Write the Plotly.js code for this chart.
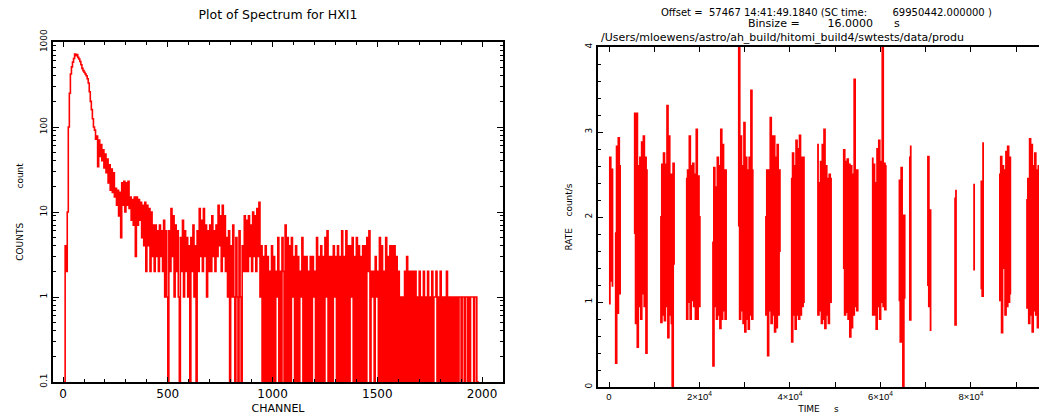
<!DOCTYPE html>
<html><head><meta charset="utf-8">
<script src="https://cdn.plot.ly/plotly-3.0.1.min.js"></script>
<style>html,body{margin:0;padding:0;background:#fff}#chart{width:1039px;height:417px}</style>
</head><body><div id="chart"></div>
<script>
// ---------------- Spectrum (HXI1): counts read every 5th channel ----------------
const specChannelStep = 5;
const specCountsA = [ // ch 0..495
  0,0,4,2,10,100,250,420,510,580,
  640,720,690,710,660,630,590,540,490,460,
  440,420,400,370,330,260,200,160,125,100,
  92,72,78,34,70,45,62,40,54,33,
  48,29,42,22,36,18,32,17,29,15,
  19,12,18,9,17,5,22,12,23,10,
  22,12,23,11,15,8,14,7,15,3,
  15,7,14,8,13,5,12,4,13,2,
  12,4,11,2,10,3,7,2,7,3,
  6,2,7,3,6,2,8,1,6,1];
const specCountsB = [ // ch 500..995
  0,6,2,11,3,9,1,7,2,6,
  1,0,5,2,8,1,6,2,5,1,
  4,0,5,2,7,1,4,0,6,2,
  11,3,8,2,11,3,7,1,6,2,
  7,2,9,3,6,2,7,3,12,4,
  9,2,12,3,9,2,5,1,6,0,
  4,1,7,1,0,5,1,0,6,1,
  0,4,2,9,2,8,2,9,3,7,
  2,10,3,9,2,11,3,13,1,4,
  0,3,0,4,0,3,0,2,0,4];
const specCountsC = [ // ch 1000..1495
  0,3,0,2,1,5,0,2,0,5,
  2,0,7,0,5,0,4,0,5,1,
  3,0,4,0,3,0,2,1,5,0,
  3,0,3,0,2,0,3,0,3,1,
  2,0,5,0,3,0,4,0,3,0,
  5,1,6,0,3,0,3,0,4,1,
  3,0,4,0,3,0,6,0,3,0,
  6,0,4,0,4,1,5,0,3,0,
  5,0,4,0,3,0,4,0,4,0,
  5,2,6,0,2,1,2,0,3,1];
const specCountsD = [ // ch 1500..1980
  2,0,5,0,4,0,2,0,5,0,
  3,0,4,0,4,0,4,0,3,0,
  2,0,1,0,1,0,2,0,3,0,
  2,0,2,0,2,0,2,0,1,0,
  2,0,1,0,2,0,1,0,2,0,
  1,0,2,0,1,1,2,0,1,0,
  2,0,1,0,1,0,2,0,1,0,
  1,0,1,0,1,0,1,0,1,1,
  0,1,1,0,1,1,0,1,0,1,
  1,1,0,1,1,0,0];
const specXTicks = [0, 500, 1000, 1500, 2000];
const specYTicks = [0.1, 1, 10, 100, 1000];
const specYTickText = ['0.1', '1', '10', '100', '1000'];

// ---------------- Light curve: rate (count/s), one value per 12 bins of 16 s ----------------
const lcSampleStep = 192; // s
const lcSegStart = [0, 1300, 5500, 11300, 17000, 22800, 28500, 34500, 40200, 46000,
                    51700, 58100, 64000, 66300, 70300, 76300, 80500, 82100, 86200, 92200];
const lcSeg01 = [0.98, 2.70, 1.25, 2.56, 1.19];
const lcSeg02 = [1.81, 0.28, 2.83, 0.87, 2.93, 1.10, 2.60];
const lcSeg03 = [1.81, 3.22, 0.75, 3.22, 0.47, 2.60, 0.95, 2.70, 0.80, 2.88, 1.10, 2.95, 0.95, 2.70, 0.40, 2.55];
const lcSeg04 = [2.00, 0.76, 2.62, 0.85, 2.75, 0.78, 2.62, 0.95, 3.31, 0.58, 2.95, 0.85, 2.50, 0.75, 0.00, 2.63, 1.45];
const lcSeg05 = [2.45, 0.80, 2.55, 1.00, 2.95, 0.80, 2.60, 1.02, 2.63, 0.95, 2.50, 0.80, 3.03, 0.80, 2.48, 0.95, 2.00];
const lcSeg06 = [1.70, 0.25, 2.58, 0.95, 2.35, 0.80, 2.70, 0.85, 2.60, 0.69, 3.03, 0.80, 2.85, 0.90, 2.55, 0.80, 2.55];
const lcSeg07 = [1.90, 4.50, 0.80, 2.95, 0.90, 2.60, 0.75, 3.11, 0.65, 2.70, 0.80, 2.55, 0.68, 2.70, 0.85, 3.49, 0.80, 2.55];
const lcSeg08 = [2.00, 0.85, 2.55, 0.37, 2.55, 0.90, 3.17, 0.75, 2.95, 0.85, 2.95, 0.65, 2.70, 0.70, 2.85, 0.85, 2.55, 1.60];
const lcSeg09 = [2.45, 0.53, 2.75, 0.85, 2.60, 0.68, 2.90, 0.85, 2.80, 0.80, 2.96, 0.85, 2.70, 0.95, 2.70, 1.00];
const lcSeg10 = [2.85, 0.85, 2.40, 0.90, 2.65, 0.75, 2.85, 0.80, 3.03, 0.69, 2.60, 0.85, 2.45, 0.75, 2.50, 1.00, 2.45];
const lcSeg11 = [1.40, 2.79, 0.85, 2.65, 0.88, 2.68, 0.80, 2.62, 0.59, 2.60, 0.70, 2.50, 0.85, 3.62, 0.95, 2.55, 0.90, 2.55];
const lcSeg12 = [2.69, 0.85, 2.62, 0.85, 2.40, 0.68, 2.80, 0.95, 2.90, 0.80, 2.65, 1.00, 4.50, 0.95, 2.63, 0.91, 2.60];
const lcSeg13 = [1.02, 2.43, 0.53, 2.58, 1.20, 0.00, 2.02, 1.05];
const lcSeg14 = [2.70, 0.79, 2.83];
const lcSeg15 = [1.20, 2.71, 0.95, 2.08, 0.67];
const lcSeg16 = [2.22, 0.73, 2.31];
const lcSeg17 = [2.38, 1.38];
const lcSeg18 = [1.16, 2.42, 1.07, 2.87];
const lcSeg19 = [2.50, 1.02, 2.71, 0.64, 2.60, 1.40, 2.55, 0.85, 2.77, 0.95, 2.83, 1.00, 2.70, 1.10];
const lcSeg20 = [2.20, 0.93, 2.45, 0.75, 2.92, 0.85, 2.85, 0.65, 2.60, 0.90, 2.75, 0.85, 2.55, 0.70, 2.60];
const lcTickVals = [0, 20000, 40000, 60000, 80000];
const lcTickText = ['0', '2×10<sup>4</sup>', '4×10<sup>4</sup>', '6×10<sup>4</sup>', '8×10<sup>4</sup>'];
const lcYTicks = [0, 1, 2, 3, 4];

// ---------------- build traces ----------------
const specCounts = [].concat(specCountsA, specCountsB, specCountsC, specCountsD);
const specFloor = 0.1; // zero counts are drawn down to the bottom of the log axis
// histogram outline: each 5-channel sample is held flat until the next one
const specX = [], specY = [];
specCounts.forEach((c, i) => {
  const v = Math.max(c, specFloor);
  specX.push(i * specChannelStep, (i + 1) * specChannelStep);
  specY.push(v, v);
});

const lcSegs = [lcSeg01, lcSeg02, lcSeg03, lcSeg04, lcSeg05, lcSeg06, lcSeg07, lcSeg08, lcSeg09, lcSeg10,
                lcSeg11, lcSeg12, lcSeg13, lcSeg14, lcSeg15, lcSeg16, lcSeg17, lcSeg18, lcSeg19, lcSeg20];
const lcX = [], lcY = [];
lcSegs.forEach((seg, k) => {
  seg.forEach((r, i) => {
    const t = lcSegStart[k] + i * lcSampleStep;
    lcX.push(t, t + lcSampleStep); lcY.push(r, r);
  });
  lcX.push(null); lcY.push(null);
});

const W = 1039, H = 417;
const px = x => x / W, py = y => 1 - y / H;
const DJ = 'DejaVu Sans, sans-serif';
const LB = 'Liberation Sans, Arial, sans-serif';
const nb = n => '\u00a0'.repeat(n);

const traces = [
  {x: specX, y: specY, type: 'scatter', mode: 'lines',
   line: {color: '#ff0000', width: 1.6, simplify: false},
   xaxis: 'x', yaxis: 'y', hoverinfo: 'skip'},
  {x: lcX, y: lcY, type: 'scatter', mode: 'lines',
   line: {color: '#ff0000', width: 1.8, simplify: false}, connectgaps: false,
   xaxis: 'x2', yaxis: 'y2', hoverinfo: 'skip'}
];

const minorLog = [];
[0.1, 1, 10, 100].forEach(d => { for (let m = 2; m <= 9; m++) minorLog.push(d * m); });

const axCommon = {showgrid: false, zeroline: false, showline: true, linecolor: '#000', linewidth: 2,
                  ticks: 'inside', tickcolor: '#000', tickwidth: 1, fixedrange: true, automargin: false};

const layout = {
  width: W, height: H, margin: {l: 0, r: 0, t: 0, b: 0}, showlegend: false,
  paper_bgcolor: '#fff', plot_bgcolor: '#fff',
  font: {family: DJ, size: 11, color: '#000'},
  title: {text: 'Plot of Spectrum for HXI1', x: px(278), xanchor: 'center', xref: 'paper',
          y: py(15), yanchor: 'middle', yref: 'container', font: {family: DJ, size: 12.5, color: '#000'}},
  xaxis: Object.assign({}, axCommon, {domain: [px(53), px(503)], range: [-48, 2100], anchor: 'y',
    tickmode: 'array', tickvals: specXTicks, ticklen: 5, mirror: 'ticks',
    tickfont: {family: DJ, size: 12}, minor: {dtick: 100, tick0: 0, ticks: 'inside', ticklen: 3, tickcolor: '#000'},
    title: {text: 'CHANNEL', font: {family: DJ, size: 11}, standoff: 4}}),
  yaxis: Object.assign({}, axCommon, {domain: [py(382), py(42)], type: 'log', range: [-1, 3], anchor: 'x',
    tickmode: 'array', tickvals: specYTicks, ticktext: specYTickText, ticklen: 6, mirror: 'ticks', tickangle: -90,
    tickfont: {family: DJ, size: 9}, minor: {tickmode: 'array', tickvals: minorLog, ticks: 'inside', ticklen: 3, tickcolor: '#000'},
    title: {text: 'COUNTS' + nb(12) + 'count', font: {family: DJ, size: 9}, standoff: 14}}),
  xaxis2: Object.assign({}, axCommon, {domain: [px(598), 1], range: [-2430, 95030], anchor: 'y2',
    tickmode: 'array', tickvals: lcTickVals, ticktext: lcTickText, ticklen: 5, mirror: 'ticks',
    tickfont: {family: LB, size: 9.5}, minor: {dtick: 10000, tick0: 0, ticks: 'inside', ticklen: 5, tickcolor: '#000'},
    title: {text: 'TIME' + nb(5) + 's', font: {family: DJ, size: 9}, standoff: 4}}),
  yaxis2: Object.assign({}, axCommon, {domain: [py(387), py(47)], range: [0, 4], anchor: 'x2',
    tickmode: 'array', tickvals: lcYTicks, ticklen: 5, mirror: false, tickangle: -90,
    tickfont: {family: DJ, size: 9}, minor: {dtick: 0.2, tick0: 0, ticks: 'inside', ticklen: 3, tickcolor: '#000'},
    title: {text: 'RATE' + nb(4) + 'count/s', font: {family: DJ, size: 9}, standoff: 10}}),
  annotations: [
    {text: 'Offset =' + nb(2) + '57467 14:41:49.1840 (SC time:' + nb(8) + '69950442.000000 )', x: px(826), y: py(12), font: {family: DJ, size: 10}},
    {text: 'Binsize =' + nb(8) + '16.0000' + nb(6) + 's', x: px(824), y: py(24), font: {family: DJ, size: 11}},
    {text: '/Users/mloewens/astro/ah_build/hitomi_build4/swtests/data/produ', x: px(599), y: py(38), xanchor: 'left', font: {family: DJ, size: 11}}
  ].map(a => Object.assign({xref: 'paper', yref: 'paper', showarrow: false, xanchor: 'center', yanchor: 'middle'}, a))
};

Plotly.newPlot('chart', traces, layout, {staticPlot: true, displayModeBar: false});
</script></body></html>
